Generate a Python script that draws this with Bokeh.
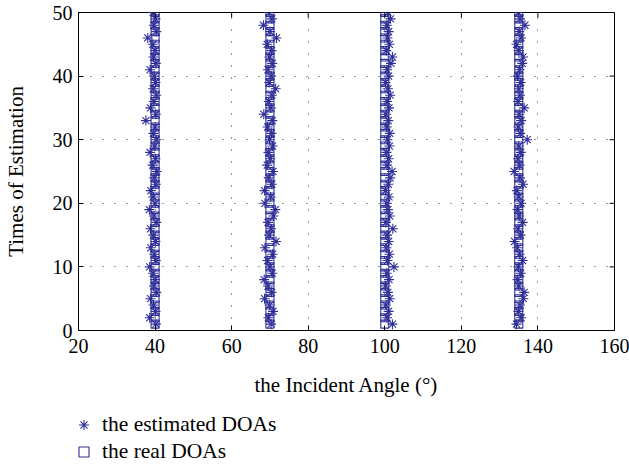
import math
from bokeh.plotting import figure
from bokeh.layouts import column
from bokeh.models import (Legend, LegendItem, ColumnDataSource,
                          FixedTicker, Range1d)
from bokeh.embed import file_html
from bokeh.resources import INLINE

# ---- data ----
trials = list(range(1, 51))
real_doas = [40, 70, 100, 135]

est_40 = [40.2, 38.6, 40.1, 39.6, 38.8, 40.3, 39.7, 40.0, 39.5, 38.6,
          40.2, 39.8, 38.9, 40.1, 39.6, 38.8, 40.3, 39.7, 38.5, 40.0,
          39.5, 38.9, 40.2, 39.8, 40.4, 39.4, 40.1, 38.7, 39.9, 40.3,
          39.6, 40.0, 37.6, 40.2, 38.8, 39.7, 40.3, 39.5, 40.1, 39.8,
          38.7, 40.2, 39.6, 40.0, 39.4, 38.1, 40.3, 39.7, 40.1, 39.5]
est_70 = [70.3, 69.6, 70.8, 69.9, 68.6, 70.4, 69.5, 68.5, 70.6, 70.0,
          69.4, 70.7, 68.7, 71.6, 69.8, 70.3, 69.5, 70.9, 71.4, 68.7,
          70.2, 68.6, 70.5, 69.7, 70.8, 69.3, 70.1, 69.6, 70.7, 69.9,
          70.4, 69.4, 70.6, 68.4, 70.2, 69.7, 70.5, 71.5, 69.8, 70.3,
          69.5, 70.6, 69.9, 70.4, 69.3, 71.7, 70.0, 68.3, 70.5, 69.8]
est_100 = [102.0, 100.6, 101.0, 100.3, 101.3, 100.8, 100.2, 101.1, 100.5, 102.4,
           100.7, 101.2, 100.4, 101.0, 100.6, 102.1, 100.3, 101.3, 100.8, 100.5,
           101.1, 100.2, 100.9, 101.4, 101.9, 100.6, 101.0, 100.4, 101.2, 100.7,
           101.3, 100.5, 100.9, 100.3, 101.1, 100.6, 101.4, 100.8, 100.2, 101.0,
           100.6, 101.6, 102.0, 100.4, 101.2, 100.7, 101.0, 100.5, 101.5, 100.8]
est_135 = [134.4, 135.6, 134.9, 135.3, 136.2, 136.4, 135.0, 134.7, 135.5, 134.9,
           136.0, 135.2, 134.6, 133.9, 135.4, 134.8, 136.0, 135.1, 134.7, 135.6,
           135.0, 134.5, 136.1, 135.3, 133.8, 135.2, 134.8, 135.5, 135.0, 137.2,
           135.4, 134.9, 135.6, 135.1, 136.4, 134.8, 135.3, 135.0, 135.5, 134.7,
           135.2, 135.9, 136.1, 135.0, 134.4, 135.6, 135.1, 136.6, 135.3, 134.9]

x_ticks = [20, 40, 60, 80, 100, 120, 140, 160]
y_ticks = [0, 10, 20, 30, 40, 50]
legend_labels = ["the estimated DOAs", "the real DOAs"]

FONT = "Liberation Serif"
COLOR = "#2F2F98"

est_src = ColumnDataSource(dict(
    x=est_40 + est_70 + est_100 + est_135,
    y=trials * 4,
))
real_src = ColumnDataSource(dict(
    x=[r for r in real_doas for _ in trials],
    y=trials * 4,
))

x_lo, x_hi = x_ticks[0], x_ticks[-1]
y_lo, y_hi = y_ticks[0], y_ticks[-1]

p = figure(width=629, height=405, x_range=Range1d(x_lo, x_hi), y_range=Range1d(y_lo, y_hi),
           output_backend="svg", toolbar_location=None,
           min_border_left=75, min_border_right=15, min_border_top=12,
           min_border_bottom=75)
p.background_fill_color = "white"
p.border_fill_color = "white"
p.outline_line_color = "black"
p.outline_line_width = 1

for g in (p.xgrid[0], p.ygrid[0]):
    g.grid_line_color = "black"
    g.grid_line_dash = "1 11"
    g.grid_line_width = 1
    g.grid_line_alpha = 0.8

star_style = dict(marker="asterisk", size=10, line_color=COLOR, line_width=1.1)
sq_style = dict(marker="square", size=8, fill_color=None, line_color=COLOR, line_width=1.1)

p.scatter("x", "y", source=est_src, **star_style)
p.scatter("x", "y", source=real_src, **sq_style)

# ticks on the top and right edges of the box
p.ray(x=x_ticks, y=[y_hi] * len(x_ticks), length=5, length_units="screen",
      angle=-math.pi / 2, line_color="black", line_width=1)
p.ray(x=[x_hi] * len(y_ticks), y=y_ticks, length=5, length_units="screen",
      angle=math.pi, line_color="black", line_width=1)

for ax in (p.xaxis[0], p.yaxis[0]):
    ax.major_tick_in = 5
    ax.major_tick_out = 0
    ax.minor_tick_line_color = None
    ax.axis_line_color = "black"
    ax.major_tick_line_color = "black"
    ax.major_label_text_font = FONT
    ax.major_label_text_font_size = "20px"
    ax.major_label_text_color = "black"
    ax.axis_label_text_font = FONT
    ax.axis_label_text_font_size = "21px"
    ax.axis_label_text_font_style = "normal"
    ax.axis_label_text_color = "black"

p.xaxis[0].ticker = FixedTicker(ticks=x_ticks)
p.yaxis[0].ticker = FixedTicker(ticks=y_ticks)
p.xaxis[0].axis_label = "the Incident Angle (°)"
p.yaxis[0].axis_label = "Times of Estimation"
p.xaxis[0].major_label_standoff = 8
p.xaxis[0].axis_label_standoff = 17
p.yaxis[0].major_label_standoff = 6
p.yaxis[0].axis_label_standoff = 22

# legend strip below the chart (its glyphs use the same data, kept out of view)
lf = figure(width=629, height=59, x_range=Range1d(0, 1), y_range=Range1d(0, 1),
            x_axis_type=None, y_axis_type=None, output_backend="svg",
            toolbar_location=None, min_border=0, min_border_left=0,
            min_border_right=0, min_border_top=0, min_border_bottom=0)
lf.outline_line_color = None
lf.xgrid.visible = False
lf.ygrid.visible = False
ls = lf.scatter("x", "y", source=est_src, **star_style)
lq = lf.scatter("x", "y", source=real_src, **sq_style)

legend = Legend(items=[LegendItem(label=legend_labels[0], renderers=[ls]),
                       LegendItem(label=legend_labels[1], renderers=[lq])],
                location=(-7, 0), orientation="vertical",
                border_line_color=None, background_fill_alpha=0,
                padding=0, margin=0, glyph_width=25, glyph_height=25,
                label_height=25, label_standoff=6, spacing=2,
                label_text_font=FONT, label_text_font_size="21.5px",
                label_text_color="black")
lf.add_layout(legend)

layout = column(p, lf, spacing=0)
open("out.html", "w").write(file_html(layout, INLINE))
